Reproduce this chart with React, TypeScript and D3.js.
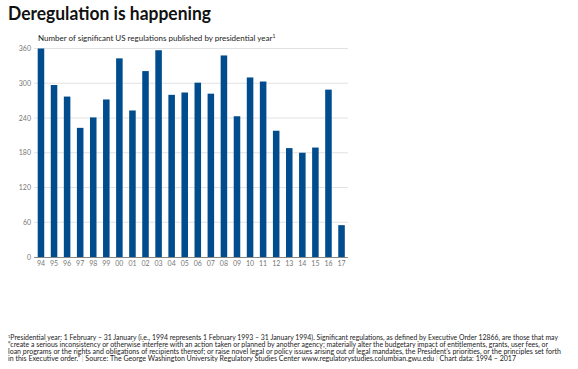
import React, { useRef, useEffect } from 'react';
import * as d3 from 'd3';

// presidential years, 1994 - 2017
const years = ['94', '95', '96', '97', '98', '99', '00', '01', '02', '03', '04', '05',
  '06', '07', '08', '09', '10', '11', '12', '13', '14', '15', '16', '17'];
const regulations = [360, 297, 277, 223, 241, 272, 343, 253, 321, 357, 280, 284,
  301, 282, 348, 243, 310, 303, 218, 188, 180, 189, 289, 55];
const yTicks = [0, 60, 120, 180, 240, 300, 360];

const title = 'Deregulation is happening';
const subtitle = 'Number of significant US regulations published by presidential year';
const notes = [
  'Presidential year: 1 February – 31 January (i.e., 1994 represents 1 February 1993 – 31 January 1994). Significant regulations, as defined by Executive Order 12866, are those that may',
  '“create a serious inconsistency or otherwise interfere with an action taken or planned by another agency; materially alter the budgetary impact of entitlements, grants, user fees, or',
  'loan programs or the rights and obligations of recipients thereof; or raise novel legal or policy issues arising out of legal mandates, the President’s priorities, or the principles set forth',
];
const noteLast = ['in this Executive order.”', 'Source: The George Washington University Regulatory Studies Center www.regulatorystudies.columbian.gwu.edu', 'Chart data: 1994 – 2017'];

const App = () => {
  const ref = useRef<SVGSVGElement>(null);

  useEffect(() => {
    const svg = d3.select(ref.current);
    svg.selectAll('*').remove();
    const font = 'Lato, "Open Sans", sans-serif';

    const x = d3.scaleBand<string>()
      .domain(years)
      .range([34.5, 348])
      .paddingInner(0.5)
      .paddingOuter(0.245);
    const y = d3.scaleLinear().domain([0, 360]).range([257, 48.5]);

    // title + subtitle
    svg.append('text')
      .attr('x', 8).attr('y', 20)
      .attr('font-family', font).attr('font-weight', 700).attr('font-size', 19)
      .attr('fill', '#111')
      .attr('textLength', 203).attr('lengthAdjust', 'spacingAndGlyphs')
      .text(title);

    const sub = svg.append('text')
      .attr('x', 38).attr('y', 41)
      .attr('font-family', font).attr('font-size', 8)
      .attr('fill', '#222');
    sub.append('tspan').text(subtitle);
    sub.append('tspan').attr('font-size', 5).attr('dy', -3).text('1');

    // gridlines
    svg.append('g')
      .selectAll('line')
      .data(yTicks.filter((d) => d > 0))
      .enter()
      .append('line')
      .attr('x1', 34).attr('x2', 348)
      .attr('y1', (d) => y(d)).attr('y2', (d) => y(d))
      .attr('stroke', '#e2e2e2').attr('stroke-width', 1);

    // y labels
    svg.append('g')
      .selectAll('text')
      .data(yTicks)
      .enter()
      .append('text')
      .attr('x', 31).attr('y', (d) => y(d) + 2.5)
      .attr('text-anchor', 'end')
      .attr('font-family', font).attr('font-size', 7)
      .attr('fill', '#777')
      .text((d) => d);

    // bars
    svg.append('g')
      .selectAll('rect')
      .data(regulations)
      .enter()
      .append('rect')
      .attr('x', (d, i) => x(years[i]) as number)
      .attr('width', x.bandwidth())
      .attr('y', (d) => y(d))
      .attr('height', (d) => y(0) - y(d))
      .attr('fill', '#004c8c');

    // baseline
    svg.append('line')
      .attr('x1', 34).attr('x2', 348)
      .attr('y1', y(0) + 0.5).attr('y2', y(0) + 0.5)
      .attr('stroke', '#888').attr('stroke-width', 1);

    // x labels
    svg.append('g')
      .selectAll('text')
      .data(years)
      .enter()
      .append('text')
      .attr('x', (d) => (x(d) as number) + x.bandwidth() / 2)
      .attr('y', 266)
      .attr('text-anchor', 'middle')
      .attr('font-family', font).attr('font-size', 7)
      .attr('fill', '#777')
      .text((d) => d);

    // footnote
    const noteWidths = [550, 540, 553];
    notes.forEach((n, i) => {
      const t = svg.append('text')
        .attr('x', 8).attr('y', 340 + i * 7)
        .attr('font-family', font).attr('font-size', 6.8)
        .attr('fill', '#222')
        .attr('textLength', noteWidths[i]).attr('lengthAdjust', 'spacingAndGlyphs');
      if (i === 0) {
        t.append('tspan').attr('font-size', 4).attr('dy', -2).text('1');
        t.append('tspan').attr('dy', 2).text(n);
      } else {
        t.text(n);
      }
    });
    const last = svg.append('text')
      .attr('x', 8).attr('y', 361)
      .attr('font-family', font).attr('font-size', 6.8)
      .attr('fill', '#222')
      .attr('textLength', 508).attr('lengthAdjust', 'spacingAndGlyphs');
    noteLast.forEach((s, i) => {
      if (i > 0) last.append('tspan').attr('fill', '#bbb').text('  |  ');
      last.append('tspan').text(s);
    });
  }, []);

  return (
    <svg ref={ref} width={578} height={369}
      style={{ position: 'absolute', left: 0, top: 0, background: '#fff' }} />
  );
};

export default App;
